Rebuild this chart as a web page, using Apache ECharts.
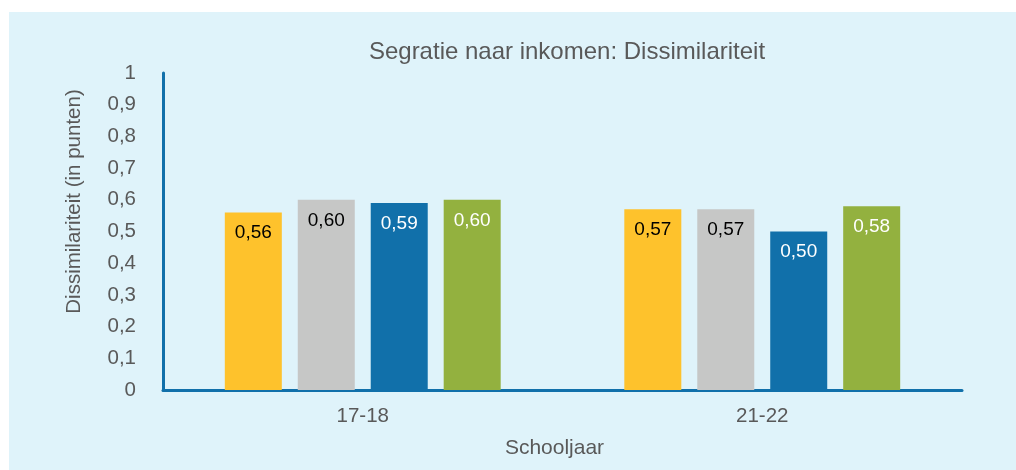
<!DOCTYPE html>
<html>
<head>
    <meta charset="utf-8">
    <style>
        body { margin: 0; background: #ffffff; }
        #chart {
            position: absolute;
            left: 9px;
            top: 12px;
            width: 1007px;
            height: 458px;
            background: #dff3fa;
        }
    </style>
    <script src="https://cdn.jsdelivr.net/npm/echarts@6/dist/echarts.min.js"></script>
</head>
<body>
    <div id="chart"></div>
    <script type="text/javascript">
        var categories = ['17-18', '21-22'];
        var seriesNames = ['Reeks 1', 'Reeks 2', 'Reeks 3', 'Reeks 4'];
        var yellowValues = [0.56, 0.57];
        var greyValues = [0.60, 0.57];
        var blueValues = [0.59, 0.50];
        var greenValues = [0.60, 0.58];

        var colors = ['#fec22c', '#c6c7c6', '#1170aa', '#93b13f'];
        var labelColors = ['#000000', '#000000', '#ffffff', '#ffffff'];
        var allValues = [yellowValues, greyValues, blueValues, greenValues];

        function comma(v) {
            return String(v).replace('.', ',');
        }

        var series = allValues.map(function (vals, i) {
            return {
                name: seriesNames[i],
                type: 'bar',
                data: vals,
                barWidth: 57,
                barGap: '28%',
                itemStyle: { color: colors[i] },
                label: {
                    show: true,
                    position: 'insideTop',
                    distance: 11,
                    color: labelColors[i],
                    fontSize: 19,
                    fontFamily: 'Liberation Sans',
                    formatter: function (p) { return comma(p.value.toFixed(2)); }
                }
            };
        });

        var myChart = echarts.init(document.getElementById('chart'));
        myChart.setOption({
            animation: false,
            textStyle: { fontFamily: 'Liberation Sans' },
            title: {
                text: 'Segratie naar inkomen: Dissimilariteit',
                left: 553,
                top: 23,
                textAlign: 'center',
                textStyle: { color: '#595959', fontSize: 24, fontWeight: 'normal', fontFamily: 'Liberation Sans' }
            },
            grid: { left: 154, top: 61, right: 54, bottom: 80 },
            xAxis: {
                type: 'category',
                data: categories,
                name: 'Schooljaar',
                nameLocation: 'middle',
                nameGap: 48,
                nameTextStyle: { color: '#595959', fontSize: 21, padding: [0, 16, 0, 0] },
                axisLine: { lineStyle: { color: '#1170aa', width: 3 } },
                axisTick: { show: false },
                axisLabel: { color: '#595959', fontSize: 20.5, margin: 16 }
            },
            yAxis: {
                type: 'value',
                min: 0,
                max: 1,
                interval: 0.1,
                name: 'Dissimilariteit (in punten)',
                nameLocation: 'middle',
                nameGap: 78,
                nameTextStyle: { color: '#595959', fontSize: 20.5, padding: [0, 0, 0, 60] },
                axisLine: { show: true, lineStyle: { color: '#1170aa', width: 3 } },
                axisTick: { show: false },
                splitLine: { show: false },
                axisLabel: {
                    color: '#595959',
                    fontSize: 20.5,
                    margin: 27,
                    formatter: function (v) { return comma(Math.round(v * 10) / 10); }
                }
            },
            series: series
        });
    </script>
</body>
</html>
